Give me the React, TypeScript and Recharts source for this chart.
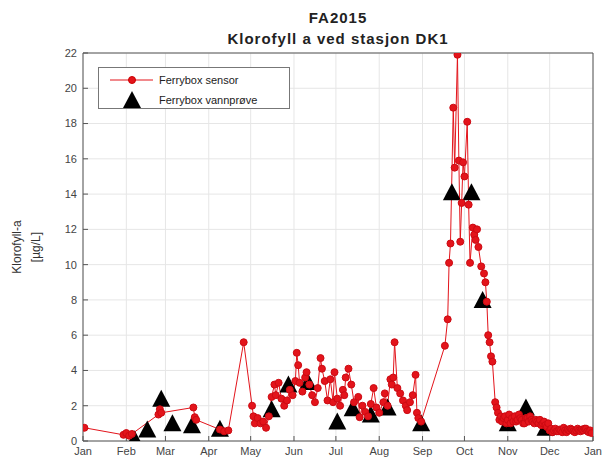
import React from 'react'
import {
  ComposedChart,
  Line,
  Scatter,
  XAxis,
  YAxis,
  CartesianGrid,
  Legend,
} from 'recharts'

// Ferrybox sensor series: day of year and chlorophyll (µg/L)
const sensorDay = [
  1, 29, 31, 33, 35, 54, 55, 56, 79, 80, 81, 98, 101, 104, 115, 121, 122, 123, 125, 127,
  129, 131, 133, 135, 137, 138, 140, 142, 144, 146, 148, 150, 152, 153, 154, 155, 157, 159,
  160, 162, 164, 166, 168, 170, 171, 173, 175, 177, 179, 180, 182, 184, 186, 187, 188, 190,
  192, 194, 197, 198, 200, 202, 204, 206, 208, 210, 212, 215, 216, 218, 220, 221, 222, 223,
  225, 227, 229, 231, 232, 234, 236, 238, 239, 240, 242, 259, 261, 262, 263, 265, 266, 268,
  269, 270, 271, 272, 273, 275, 276, 277, 279, 280, 281, 282, 283, 285, 287, 288, 289, 290,
  291, 292, 293, 295, 296, 297, 298, 299, 300, 301, 302, 303, 304, 305, 306, 307, 308, 309,
  310, 311, 312, 313, 314, 315, 316, 317, 318, 319, 320, 321, 322, 323, 324, 325, 326, 327,
  328, 329, 330, 331, 332, 333, 334, 335, 336, 337, 338, 339, 340, 341, 342, 343, 344, 345,
  346, 347, 348, 349, 350, 351, 352, 353, 354, 355, 356, 357, 358, 359, 360, 361, 362, 363,
  364,
]
const sensorChl = [
  0.75, 0.35, 0.45, 0.3, 0.4, 1.5, 1.8, 1.6, 1.9, 1.35, 1.2, 0.65, 0.55, 0.6, 5.6, 2.0, 1.4, 1.0, 1.3, 1.0,
  1.1, 0.75, 1.4, 2.5, 3.2, 2.6, 3.3, 2.4, 2.0, 2.3, 2.9, 2.6, 3.4, 5.0, 4.3, 3.3, 2.8, 3.6,
  3.9, 3.2, 2.6, 2.2, 3.0, 4.7, 4.1, 3.4, 2.3, 3.5, 2.2, 3.9, 2.4, 2.0, 2.9, 2.6, 3.6, 4.1,
  3.2, 2.2, 2.5, 1.35, 2.0, 1.65, 1.4, 2.1, 3.0, 1.9, 1.6, 2.2, 2.7, 2.0, 3.5, 3.2, 3.6, 5.6,
  3.0, 2.7, 2.3, 2.0, 1.75, 2.2, 2.6, 3.75, 1.6, 1.3, 1.1, 5.4, 6.9, 10.1, 11.2, 18.9, 15.5, 21.9,
  15.9, 11.3, 13.5, 15.8, 15.0, 18.1, 13.4, 10.1, 12.1, 11.7, 11.4, 12.0, 11.0, 9.9, 9.5, 9.0, 7.9, 6.0,
  5.6, 4.8, 4.5, 2.2, 1.9, 1.6, 1.2, 1.4, 1.1, 1.3, 1.4, 1.0, 1.2, 1.5, 1.0, 1.3, 1.1, 1.4,
  1.1, 1.2, 1.5, 1.3, 1.2, 1.0, 1.0, 1.3, 1.3, 1.1, 1.4, 1.2, 1.1, 1.0, 1.2, 1.1, 1.0, 1.2,
  0.9, 1.0, 1.1, 0.9, 0.8, 1.0, 0.6, 0.7, 0.5, 0.6, 0.7, 0.55, 0.55, 0.65, 0.6, 0.5, 0.75, 0.6,
  0.5, 0.65, 0.6, 0.7, 0.65, 0.55, 0.5, 0.6, 0.7, 0.6, 0.55, 0.65, 0.6, 0.7, 0.7, 0.55, 0.5, 0.6,
  0.45,
]

// Ferrybox water samples (vannprøve)
const sampleDay = [37, 46, 56, 64, 78, 98, 135, 147, 161, 182, 193, 206, 218, 242, 264, 278, 286, 304, 317, 331]
const sampleChl = [0.1, 0.65, 2.4, 1.0, 0.9, 0.7, 1.8, 3.2, 3.35, 1.1, 1.85, 1.5, 1.9, 1.0, 14.1, 14.1, 8.0, 1.0, 1.9, 0.75]

const monthTicks = [0, 31, 59, 90, 120, 151, 181, 212, 243, 273, 304, 334, 365]
const monthLabels = ['Jan', 'Feb', 'Mar', 'Apr', 'May', 'Jun', 'Jul', 'Aug', 'Sep', 'Oct', 'Nov', 'Dec', 'Jan']
const yTicks = [0, 2, 4, 6, 8, 10, 12, 14, 16, 18, 20, 22]

const sensor = sensorDay.map((d, i) => ({ day: d, chl: sensorChl[i] }))
const samples = sampleDay.map((d, i) => ({ day: d, chl: sampleChl[i] }))

const FONT = '"Liberation Sans", Arial, Helvetica, sans-serif'
const AXIS = '#555'
const RED = '#e3141b'

const nothing = () => null

const Triangle = (props: any) => {
  const { cx, cy } = props
  if (cx == null || cy == null) return null
  return <polygon points={`${cx},${cy - 9} ${cx - 9},${cy + 8} ${cx + 9},${cy + 8}`} fill="#000" />
}

const LegendBox = () => (
  <div
    style={{
      width: 192,
      height: 42,
      border: '1px solid #777',
      background: '#fff',
      fontFamily: FONT,
      fontSize: 11,
      color: '#222',
      boxSizing: 'border-box',
    }}
  >
    <div style={{ display: 'flex', alignItems: 'center', height: 20, marginTop: 2 }}>
      <svg width={60} height={20}>
        <line x1={11} y1={10} x2={54} y2={10} stroke={RED} strokeWidth={1} />
        <circle cx={33} cy={10} r={3.5} fill={RED} stroke="#c00" />
      </svg>
      <span>Ferrybox sensor</span>
    </div>
    <div style={{ display: 'flex', alignItems: 'center', height: 20 }}>
      <svg width={60} height={20}>
        <polygon points="33,1 24,18 42,18" fill="#000" />
      </svg>
      <span>Ferrybox vannprøve</span>
    </div>
  </div>
)

export default function App() {
  return (
    <div style={{ position: 'absolute', left: 0, top: 0, width: 607, height: 470, background: '#fff', fontFamily: FONT }}>
      <div style={{ position: 'absolute', left: 0, width: 676, top: 7, textAlign: 'center', fontWeight: 700, fontSize: 15, letterSpacing: 1, color: '#222', lineHeight: '21px' }}>
        <div>FA2015</div>
        <div>Klorofyll a ved stasjon DK1</div>
      </div>
      <div style={{ position: 'absolute', left: 27, top: 247, transform: 'translate(-50%, -50%) rotate(-90deg)', fontSize: 12, color: '#333', whiteSpace: 'nowrap', textAlign: 'center', lineHeight: '19px' }}>
        <div>Klorofyll-a</div>
        <div>[µg/L]</div>
      </div>
      <ComposedChart
        width={607}
        height={470}
        margin={{ top: 53, right: 14, bottom: 0, left: 50 }}
        style={{ position: 'absolute', left: 0, top: 0 }}
      >
        <CartesianGrid stroke="#e6e6e6" />
        {/* negative tick size turns the tick marks inward, box-style */}
        <XAxis
          dataKey="day"
          type="number"
          domain={[0, 365]}
          ticks={monthTicks}
          tickFormatter={(v: number) => monthLabels[monthTicks.indexOf(v)] ?? ''}
          height={29}
          stroke={AXIS}
          tickSize={-5}
          tickMargin={11}
          tick={{ fontSize: 11, fill: '#444' }}
          allowDataOverflow
        />
        <XAxis xAxisId="top" dataKey="day" orientation="top" type="number" domain={[0, 365]} ticks={monthTicks} mirror tick={false} tickSize={5} stroke={AXIS} allowDataOverflow />
        <YAxis
          type="number"
          domain={[0, 22]}
          ticks={yTicks}
          width={33}
          stroke={AXIS}
          tickSize={-5}
          tickMargin={11}
          tick={{ fontSize: 11, fill: '#444' }}
          allowDataOverflow
        />
        <YAxis yAxisId="right" orientation="right" type="number" domain={[0, 22]} ticks={yTicks} mirror tick={false} tickSize={5} stroke={AXIS} allowDataOverflow />
        <Legend
          content={() => <LegendBox />}
          layout="horizontal"
          verticalAlign="middle"
          wrapperStyle={{ position: 'absolute', left: 98, top: 67, width: 194 }}
        />
        <Line
          data={sensor}
          dataKey="chl"
          type="linear"
          stroke={RED}
          strokeWidth={1}
          dot={{ r: 3.5, fill: RED, stroke: '#cc0a12', strokeWidth: 1 }}
          isAnimationActive={false}
        />
        <Scatter data={samples} dataKey="chl" shape={Triangle} isAnimationActive={false} />
        {/* invisible copy bound to the top/right axes so they get a scale */}
        <Scatter data={samples} dataKey="chl" xAxisId="top" yAxisId="right" shape={nothing} legendType="none" isAnimationActive={false} />
      </ComposedChart>
    </div>
  )
}
